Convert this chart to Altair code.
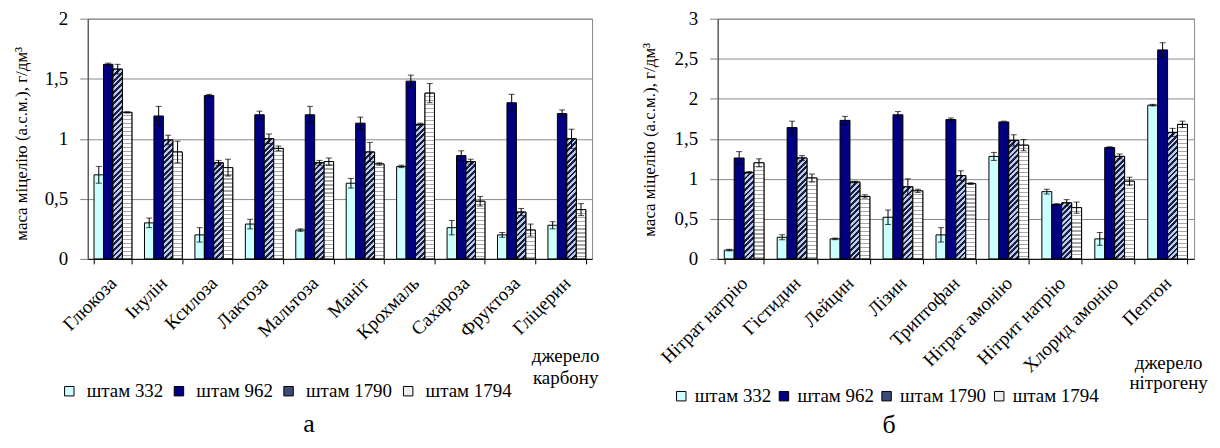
import math
import altair as alt

# ---------------- data ----------------
strains = ["штам 332", "штам 962", "штам 1790", "штам 1794"]

carbon = ["Глюкоза", "Інулін", "Ксилоза", "Лактоза", "Мальтоза",
          "Маніт", "Крохмаль", "Сахароза", "Фруктоза", "Гліцерин"]
c332 = [0.70, 0.30, 0.20, 0.29, 0.24, 0.63, 0.77, 0.26, 0.20, 0.28]
c332_err = [0.07, 0.04, 0.06, 0.04, 0.01, 0.04, 0.01, 0.06, 0.02, 0.03]
c962 = [1.62, 1.19, 1.36, 1.20, 1.20, 1.13, 1.48, 0.86, 1.30, 1.21]
c962_err = [0.01, 0.08, 0.01, 0.03, 0.07, 0.05, 0.05, 0.04, 0.07, 0.03]
c1790 = [1.58, 0.99, 0.80, 1.00, 0.80, 0.89, 1.12, 0.81, 0.39, 1.00]
c1790_err = [0.04, 0.04, 0.02, 0.04, 0.02, 0.08, 0.01, 0.02, 0.03, 0.08]
c1794 = [1.22, 0.89, 0.76, 0.92, 0.81, 0.79, 1.38, 0.48, 0.24, 0.41]
c1794_err = [0.005, 0.09, 0.07, 0.02, 0.03, 0.01, 0.08, 0.04, 0.05, 0.05]

nitro = ["Нітрат  натрію", "Гістидин", "Лейцин", "Лізин", "Триптофан",
         "Нітрат амонію", "Нітрит натрію", "Хлорид амонію", "Пептон"]
n332 = [0.11, 0.27, 0.25, 0.52, 0.30, 1.28, 0.84, 0.25, 1.92]
n332_err = [0.01, 0.03, 0.01, 0.09, 0.09, 0.05, 0.03, 0.08, 0.01]
n962 = [1.26, 1.64, 1.73, 1.80, 1.74, 1.71, 0.68, 1.39, 2.61]
n962_err = [0.08, 0.08, 0.05, 0.04, 0.02, 0.01, 0.01, 0.01, 0.09]
n1790 = [1.08, 1.26, 0.96, 0.90, 1.04, 1.48, 0.70, 1.28, 1.58]
n1790_err = [0.01, 0.03, 0.01, 0.10, 0.06, 0.07, 0.04, 0.03, 0.05]
n1794 = [1.20, 1.01, 0.78, 0.85, 0.94, 1.42, 0.64, 0.97, 1.68]
n1794_err = [0.05, 0.05, 0.02, 0.02, 0.01, 0.07, 0.07, 0.05, 0.04]

# ---------------- style ----------------
FONT = "Liberation Serif"
H = 241
WL, WR = 506, 478
PAD_IN, PAD_OUT = 0.25, 0.125
COLORS = ["#ccffff", "#000080", "#3c4a78", "#eeeeee"]


def hatch(w, h, p=4.0, dark="#1b1f45", light="#bccbe6"):
    """diagonal '/' stripes for a bar of w x h pixels"""
    h = max(h, 1.0)
    r = h / w
    a = (1 + r) / (1 + r * r)
    D = (w + h) / math.sqrt(2)
    dt = p / D
    stops, t = [], 0.0
    while t < 1:
        m, e = min(t + dt / 2, 1), min(t + dt, 1)
        stops += [{"offset": round(t, 4), "color": dark},
                  {"offset": round(m, 4), "color": dark},
                  {"offset": round(m, 4), "color": light},
                  {"offset": round(e, 4), "color": light}]
        t += dt
    return {"gradient": "linear", "x1": 0, "y1": 0,
            "x2": round(a, 5), "y2": round(a * r, 5), "stops": stops}


def waves(h, p=4.0, lw=1.1, line="#a8a8a8", bg="#ffffff"):
    """fine horizontal texture for a bar of height h pixels"""
    h = max(h, 1.0)
    dt, lt = p / h, lw / h
    stops, t = [], 0.0
    while t < 1:
        m, e = min(t + dt - lt, 1), min(t + dt, 1)
        stops += [{"offset": round(t, 4), "color": bg},
                  {"offset": round(m, 4), "color": bg},
                  {"offset": round(m, 4), "color": line},
                  {"offset": round(e, 4), "color": line}]
        t += dt
    return {"gradient": "linear", "x1": 0, "y1": 0, "x2": 0, "y2": 1,
            "stops": stops}


def build(cats, series, errs, width, ymax):
    step = width / len(cats)
    bw = step * (1 - PAD_IN) / 4
    ppu = H / ymax
    rows = []
    for s, vals, es in zip(strains, series, errs):
        for c, v, e in zip(cats, vals, es):
            row = {"cat": c, "strain": s, "v": v, "lo": v - e, "hi": v + e}
            if s == strains[2]:
                row["grad"] = hatch(bw, v * ppu)
            elif s == strains[3]:
                row["grad"] = waves(v * ppu)
            rows.append(row)
    return rows


def panel(cats, series, errs, width, ymax, yticks, ytitle, yt_x, yt_y,
          xtitle, xt_x, xt_y, xt_lh, leg_x, leg_y, leg_gap, leg_off,
          caption, cap_dx, cap_off):
    data = alt.Data(values=build(cats, series, errs, width, ymax))
    xaxis = alt.Axis(title=xtitle, titleX=xt_x, titleY=xt_y, titleAlign="center",
                     titleBaseline="top", titleFontSize=19, titleLineHeight=xt_lh,
                     titleFont=FONT, labelFont=FONT,
                     labelAngle=315, labelAlign="right", labelBaseline="middle",
                     labelFontSize=19, labelPadding=16, labelOffset=0,
                     tickBand="extent", tickSize=5, tickColor="black",
                     domainColor="black", grid=False, labelLimit=300)
    yaxis = alt.Axis(title=ytitle, titleX=yt_x, titleY=yt_y, titleAngle=270,
                     titleFont=FONT, labelFont=FONT,
                     titleAlign="center", titleBaseline="middle", titleFontSize=17,
                     values=yticks, labelFontSize=19, labelPadding=12,
                     labelExpr="replace(format(datum.value, '~g'), '.', ',')",
                     tickSize=8, tickColor="#808080", domainColor="#404040",
                     grid=True, gridColor="#8a8a8a", gridWidth=1)
    x = alt.X("cat:N", sort=cats, axis=xaxis,
              scale=alt.Scale(paddingInner=PAD_IN, paddingOuter=PAD_OUT))
    xo = alt.XOffset("strain:N", sort=strains, scale=alt.Scale(domain=strains))
    yscale = alt.Scale(domain=[0, ymax], nice=False)

    def Y(f):
        return alt.Y(f, stack=None, scale=yscale, axis=yaxis)

    base = alt.Chart(data).encode(x=x, xOffset=xo)
    bars = base.mark_bar(stroke="black", strokeWidth=1).encode(
        y=Y("v:Q"),
        fill=alt.Fill("strain:N", scale=alt.Scale(domain=strains, range=COLORS),
                      legend=alt.Legend(title=None, orient="none", legendX=leg_x,
                                        legendY=leg_y, direction="horizontal",
                                        columns=4, symbolType="square",
                                        symbolSize=90, symbolStrokeColor="black",
                                        symbolStrokeWidth=1, labelFont=FONT,
                                        labelFontSize=19, labelColor="black",
                                        labelOffset=leg_off, columnPadding=leg_gap,
                                        padding=0)))
    pat = base.transform_filter(
        alt.FieldOneOfPredicate(field="strain", oneOf=strains[2:])
    ).mark_bar(stroke="black", strokeWidth=1).encode(
        y=Y("v:Q"), fill=alt.Fill("grad:N", scale=None))
    rule = base.mark_rule(color="black", strokeWidth=1).encode(
        y=Y("lo:Q"), y2="hi:Q")
    cap_lo = base.mark_tick(color="black", thickness=1, size=6).encode(y=Y("lo:Q"))
    cap_hi = base.mark_tick(color="black", thickness=1, size=6).encode(y=Y("hi:Q"))
    return alt.layer(bars, pat, rule, cap_lo, cap_hi).properties(
        width=width, height=H,
        title=alt.TitleParams(caption, orient="bottom", frame="group",
                              anchor="middle", offset=cap_off, dx=cap_dx,
                              font=FONT, fontSize=26, fontWeight="normal",
                              color="black", baseline="alphabetic"))


left = panel(carbon, [c332, c962, c1790, c1794],
             [c332_err, c962_err, c1790_err, c1794_err],
             WL, 2, [0, 0.5, 1, 1.5, 2], "маса міцелію (а.с.м.), г/дм³", -66, 125,
             ["джерело", "карбону"], 479, 88, 22, -28, 364, 6, 8, "а", -31, 31)
right = panel(nitro, [n332, n962, n1790, n1794],
              [n332_err, n962_err, n1790_err, n1794_err],
              WR, 3, [0, 0.5, 1, 1.5, 2, 2.5, 3], "маса міцелію (а.с.м.),  г/дм³",
              -68, 121, ["джерело", "нітрогену"], 452, 95, 20, -46, 369, 3, 4,
              "б", -67, 27)

chart = alt.hconcat(left, right, spacing=126, bounds="flush").resolve_scale(
    x="independent", y="independent", xOffset="independent", fill="independent"
).properties(
    padding={"left": 4, "top": 0, "right": 4, "bottom": 4}
).configure(font=FONT).configure_axis(
    labelFont=FONT, titleFont=FONT, labelColor="black", titleColor="black",
    titleFontWeight="normal"
).configure_legend(labelFont=FONT).configure_view(
    stroke="#8a8a8a", strokeWidth=1)

chart.save("out.html", embed_options={"renderer": "svg", "actions": False})
